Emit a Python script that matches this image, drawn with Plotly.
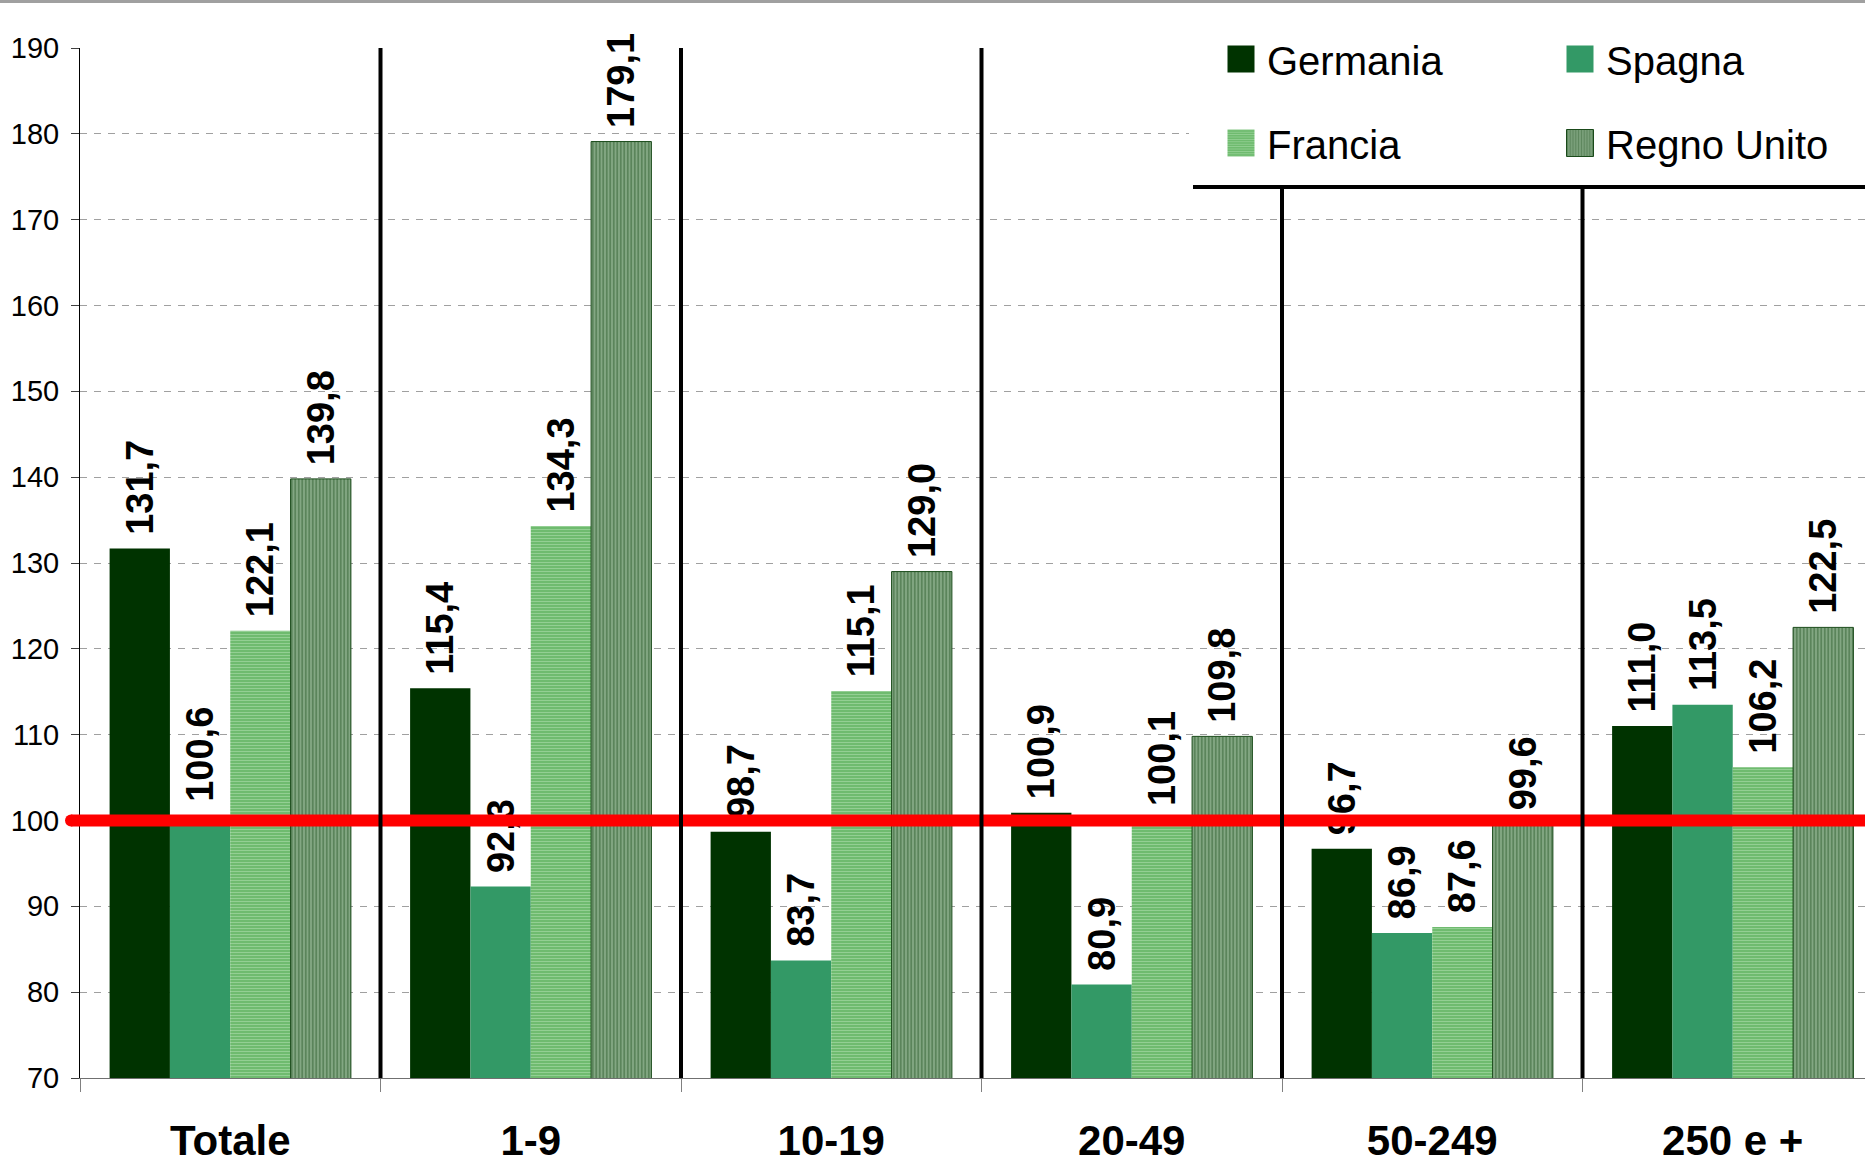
import plotly.graph_objects as go

# Size classes (employees) and index values by country
categories = ["Totale", "1-9", "10-19", "20-49", "50-249", "250 e +"]
germania = [131.7, 115.4, 98.7, 100.9, 96.7, 111.0]
spagna = [100.6, 92.3, 83.7, 80.9, 86.9, 113.5]
francia = [122.1, 134.3, 115.1, 100.1, 87.6, 106.2]
regno_unito = [139.8, 179.1, 129.0, 109.8, 99.6, 122.5]
reference_level = 100
y_ticks = list(range(70, 191, 10))

FONT = "Liberation Sans, Arial, sans-serif"
W, H = 1865, 1164
ML, MR, MT, MB = 80, 0, 48, 86
PW, PH = W - ML - MR, H - MT - MB
CAT_PX = 300.5  # pixel width of one size class

label_font = dict(family=FONT, size=38, color="black", weight="bold")


def bar(name, values, legend, **marker):
    return go.Bar(
        name=name, x=categories, y=values, legend=legend,
        # leading no-break space keeps the value clear of the bar top
        texttemplate="\u00a0%{y:.1f}", textposition="outside", textangle=-90,
        textfont=label_font, constraintext="none", cliponaxis=False,
        marker=marker, hoverinfo="x+y+name",
    )


fig = go.Figure()
fig.add_trace(bar("Germania", germania, "legend", color="#003300", line=dict(width=0)))
fig.add_trace(bar("Spagna", spagna, "legend", color="#339966", line=dict(width=0)))
fig.add_trace(bar("Francia", francia, "legend2", color="#62B562",
                  line=dict(width=0),
                  pattern=dict(shape="-", bgcolor="#62B562", fgcolor="#C4EAC4",
                               size=3, solidity=0.5)))
fig.add_trace(bar("Regno Unito", regno_unito, "legend2", color="#9CBE9C",
                  line=dict(width=1, color="#1A4A1A"),
                  pattern=dict(shape="|", bgcolor="#9CBE9C", fgcolor="#1A4A1A",
                               size=3.5, solidity=0.7)))


def py(v):
    """Convert a y value to paper coordinates."""
    return (v - y_ticks[0]) / (y_ticks[-1] - y_ticks[0])


def px_y(pixel_from_top):
    return (MT + PH - pixel_from_top) / PH


def px_x(pixel_from_left):
    return (pixel_from_left - ML) / PW


legend_bottom = px_y(187)
red_start = px_x(71)

shapes = []
# reference line at 100
shapes.append(dict(type="line", xref="paper", yref="paper", x0=red_start, x1=1.0,
                   y0=py(reference_level), y1=py(reference_level),
                   line=dict(color="#FF0000", width=12), layer="above"))
shapes.append(dict(type="circle", xref="paper", yref="paper",
                   xsizemode="pixel", ysizemode="pixel",
                   xanchor=red_start, yanchor=py(reference_level),
                   x0=-6, x1=6, y0=-6, y1=6,
                   fillcolor="#FF0000", line=dict(width=0), layer="above"))
# separators between size classes
for i in range(len(categories) - 1):
    shapes.append(dict(type="line", xref="x", yref="paper", x0=i + 0.5, x1=i + 0.5,
                       y0=0, y1=1, line=dict(color="black", width=4), layer="above"))
# legend panel
shapes.append(dict(type="rect", xref="paper", yref="paper", x0=px_x(1189), x1=1.0,
                   y0=legend_bottom, y1=px_y(0), fillcolor="white",
                   line=dict(width=0), layer="above"))
shapes.append(dict(type="line", xref="paper", yref="paper", x0=px_x(1193), x1=1.0,
                   y0=legend_bottom, y1=legend_bottom,
                   line=dict(color="black", width=4), layer="above"))
# thin grey strip along the top edge
shapes.append(dict(type="rect", xref="paper", yref="paper", x0=px_x(0), x1=1.0,
                   y0=px_y(3), y1=px_y(0), fillcolor="#A0A0A0",
                   line=dict(width=0), layer="above"))

legend_common = dict(orientation="h", xanchor="left", yanchor="middle",
                     x=px_x(1227), entrywidth=294, entrywidthmode="pixels",
                     font=dict(family=FONT, size=40, color="black"),
                     bgcolor="rgba(0,0,0,0)", borderwidth=0,
                     itemclick=False, itemdoubleclick=False)

fig.update_layout(
    width=W, height=H,
    margin=dict(l=ML, r=MR, t=MT, b=MB, autoexpand=False),
    paper_bgcolor="white", plot_bgcolor="white",
    separators=",.",
    barmode="group", bargap=0.197, bargroupgap=0,
    font=dict(family=FONT, color="black"),
    shapes=shapes,
    legend=dict(**legend_common, y=px_y(59)),
    legend2=dict(**legend_common, y=px_y(143)),
    xaxis=dict(
        type="category", categoryorder="array", categoryarray=categories,
        range=[-0.5, -0.5 + PW / CAT_PX],
        tickson="boundaries", ticks="outside", ticklen=13, tickcolor="#808080",
        showline=True, linecolor="#707070", linewidth=1, showgrid=False,
        tickfont=dict(family=FONT, size=42, color="black", weight="bold"),
        ticklabelstandoff=26,
    ),
    yaxis=dict(
        range=[y_ticks[0], y_ticks[-1]], tickmode="array", tickvals=y_ticks,
        ticks="outside", ticklen=8, tickcolor="#404040",
        showline=True, linecolor="black", linewidth=1,
        showgrid=True, gridcolor="#A0A0A0", gridwidth=1, griddash="7px,7px",
        zeroline=False, ticklabelstandoff=6,
        tickfont=dict(family=FONT, size=29, color="black"),
    ),
)

# enlarge the legend swatches
post = """
var gd = document.getElementById('{plot_id}');
function bigSwatches(){
  gd.querySelectorAll('.legendpoints path').forEach(function(p){
    p.setAttribute('d', 'M13.5,13.5H-13.5V-13.5H13.5Z');
    p.setAttribute('transform', 'translate(14,0)');
  });
}
bigSwatches();
gd.on('plotly_afterplot', bigSwatches);
"""

fig.write_html("out.html", post_script=post, config={"displayModeBar": False})
